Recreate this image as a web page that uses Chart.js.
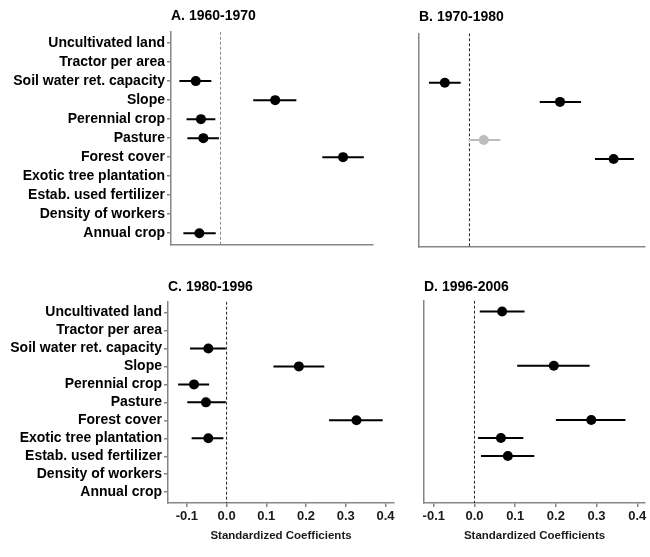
<!doctype html>
<html lang="en">
  <head>
    <meta charset="UTF-8" />
    <title>Standardized Coefficients by period</title>
    <script src="https://cdn.jsdelivr.net/npm/chart.js@4.4.0/dist/chart.umd.min.js"></script>
    <style>
      html, body { margin: 0; padding: 0; background: #fff; }
      #wrap { position: relative; width: 650px; height: 557px; overflow: hidden; }
      #wrap canvas { position: absolute; }
    </style>
  </head>
  <body>
    <div id="wrap">
      <canvas id="panelA" width="385" height="255" style="left:0;top:0"></canvas>
      <canvas id="panelB" width="265" height="255" style="left:385px;top:0"></canvas>
      <canvas id="panelC" width="400" height="297" style="left:0;top:260px"></canvas>
      <canvas id="panelD" width="250" height="297" style="left:400px;top:260px"></canvas>
    </div>
    <script>
const categories = ['Uncultivated land', 'Tractor per area', 'Soil water ret. capacity', 'Slope',
    'Perennial crop', 'Pasture', 'Forest cover', 'Exotic tree plantation',
    'Estab. used fertilizer', 'Density of workers', 'Annual crop'];
const xTicks = [-0.1, 0, 0.1, 0.2, 0.3, 0.4];

// A. 1960-1970
const estA  = [null, null, -0.062, 0.137, -0.049, -0.043, 0.307, null, null, null, -0.053];
const lowA  = [null, null, -0.103, 0.082, -0.085, -0.083, 0.255, null, null, null, -0.093];
const highA = [null, null, -0.023, 0.190, -0.013, -0.004, 0.359, null, null, null, -0.012];

// B. 1970-1980 (pasture not significant -> grey)
const estB  = [null, null, -0.062, 0.228, null, 0.036, 0.363, null, null, null, null];
const lowB  = [null, null, -0.102, 0.177, null, -0.002, 0.316, null, null, null, null];
const highB = [null, null, -0.022, 0.281, null, 0.078, 0.414, null, null, null, null];
const sigB  = [true, true, true, true, true, false, true, true, true, true, true];

// C. 1980-1996
const estC  = [null, null, -0.046, 0.182, -0.082, -0.052, 0.327, -0.046, null, null, null];
const lowC  = [null, null, -0.092, 0.118, -0.122, -0.099, 0.258, -0.088, null, null, null];
const highC = [null, null, -0.002, 0.246, -0.044, -0.002, 0.393, -0.008, null, null, null];

// D. 1996-2006
const estD  = [0.068, null, null, 0.195, null, null, 0.287, 0.065, 0.082, null, null];
const lowD  = [0.013, null, null, 0.105, null, null, 0.200, 0.009, 0.016, null, null];
const highD = [0.123, null, null, 0.283, null, null, 0.371, 0.120, 0.147, null, null];

const FONT = 'Liberation Sans, Arial, sans-serif';
const AXIS_GREY = '#858585';

function makePanel(id, cfg) {
    const datasets = [];
    const pts = [], ptColors = [];
    cfg.est.forEach((v, i) => {
        if (v === null) return;
        const col = (cfg.sig && !cfg.sig[i]) ? '#bdbdbd' : '#000';
        pts.push({ x: v, y: i });
        ptColors.push(col);
    });
    // points first so they sit on top
    datasets.push({
        data: pts,
        pointRadius: 5,
        pointBackgroundColor: ptColors,
        pointBorderColor: ptColors,
        pointBorderWidth: 0,
        showLine: false
    });
    cfg.est.forEach((v, i) => {
        if (v === null) return;
        const col = (cfg.sig && !cfg.sig[i]) ? '#bdbdbd' : '#000';
        datasets.push({
            data: [{ x: cfg.low[i], y: i }, { x: cfg.high[i], y: i }],
            showLine: true,
            borderColor: col,
            borderWidth: 2,
            pointRadius: 0
        });
    });
    // zero reference line
    datasets.push({
        data: [{ x: 0, y: -0.6 }, { x: 0, y: 10.6 }],
        showLine: true,
        borderColor: cfg.zeroColor,
        borderWidth: 1,
        borderDash: [3, 2],
        pointRadius: 0
    });

    new Chart(document.getElementById(id), {
        type: 'scatter',
        data: { datasets: datasets },
        options: {
            responsive: false,
            animation: false,
            devicePixelRatio: 1,
            layout: { padding: cfg.padding },
            plugins: {
                legend: { display: false },
                tooltip: { enabled: false },
                title: {
                    display: true,
                    text: cfg.title,
                    align: 'start',
                    fullSize: false,
                    color: '#000',
                    font: { family: FONT, size: 14, weight: 'bold' },
                    padding: cfg.titlePad
                }
            },
            scales: {
                x: {
                    type: 'linear',
                    min: cfg.xRange[0],
                    max: cfg.xRange[1],
                    afterBuildTicks: s => { s.ticks = xTicks.map(v => ({ value: v })); },
                    afterFit: s => { s.height = cfg.xHeight; },
                    ticks: {
                        display: cfg.showX,
                        autoSkip: false,
                        maxRotation: 0,
                        padding: 2,
                        color: '#1a1a1a',
                        font: { family: FONT, size: 13, weight: 'bold' },
                        callback: v => v.toFixed(1)
                    },
                    grid: {
                        display: cfg.showX,
                        drawOnChartArea: false,
                        drawTicks: true,
                        tickLength: 4,
                        color: AXIS_GREY,
                        lineWidth: 1.5
                    },
                    border: { display: true, color: AXIS_GREY, width: 1.5 },
                    title: {
                        display: cfg.showX,
                        text: 'Standardized Coefficients',
                        color: '#1a1a1a',
                        font: { family: FONT, size: 11.5, weight: 'bold' },
                        padding: { top: 0, bottom: 14 }
                    }
                },
                y: {
                    type: 'linear',
                    reverse: true,
                    min: -0.6,
                    max: 10.6,
                    afterBuildTicks: s => { s.ticks = categories.map((c, i) => ({ value: i })); },
                    afterFit: s => { s.width = cfg.yWidth; },
                    ticks: {
                        display: cfg.showY,
                        autoSkip: false,
                        padding: 2,
                        color: '#000',
                        font: { family: FONT, size: 14, weight: 'bold' },
                        callback: (v, i) => categories[i]
                    },
                    grid: {
                        display: cfg.showY,
                        drawOnChartArea: false,
                        drawTicks: true,
                        tickLength: 4,
                        color: AXIS_GREY,
                        lineWidth: 1.5
                    },
                    border: { display: true, color: AXIS_GREY, width: 1.5 }
                }
            }
        }
    });
}

makePanel('panelA', {
    title: 'A. 1960-1970', est: estA, low: lowA, high: highA,
    xRange: [-0.124, 0.382], zeroColor: '#8a8a8a',
    showX: false, showY: true, yWidth: 171, xHeight: 0,
    padding: { left: 0, right: 12, top: 0, bottom: 10 },
    titlePad: { top: 7.5, bottom: 7.4 }
});
makePanel('panelB', {
    title: 'B. 1970-1980', est: estB, low: lowB, high: highB, sig: sigB,
    xRange: [-0.127, 0.442], zeroColor: '#222',
    showX: false, showY: false, yWidth: 34, xHeight: 0,
    padding: { left: 0, right: 3, top: 0, bottom: 8.3 },
    titlePad: { top: 8.5, bottom: 8 }
});
makePanel('panelC', {
    title: 'C. 1980-1996', est: estC, low: lowC, high: highC,
    xRange: [-0.1475, 0.4215], zeroColor: '#222',
    showX: true, showY: true, yWidth: 168, xHeight: 54,
    padding: { left: 0, right: 6, top: 0, bottom: 0 },
    titlePad: { top: 18.6, bottom: 6.3 }
});
makePanel('panelD', {
    title: 'D. 1996-2006', est: estD, low: lowD, high: highD,
    xRange: [-0.124, 0.419], zeroColor: '#222',
    showX: true, showY: false, yWidth: 24, xHeight: 54,
    padding: { left: 0, right: 0, top: 0, bottom: 0 },
    titlePad: { top: 18.6, bottom: 5.3 }
});
    </script>
  </body>
</html>
